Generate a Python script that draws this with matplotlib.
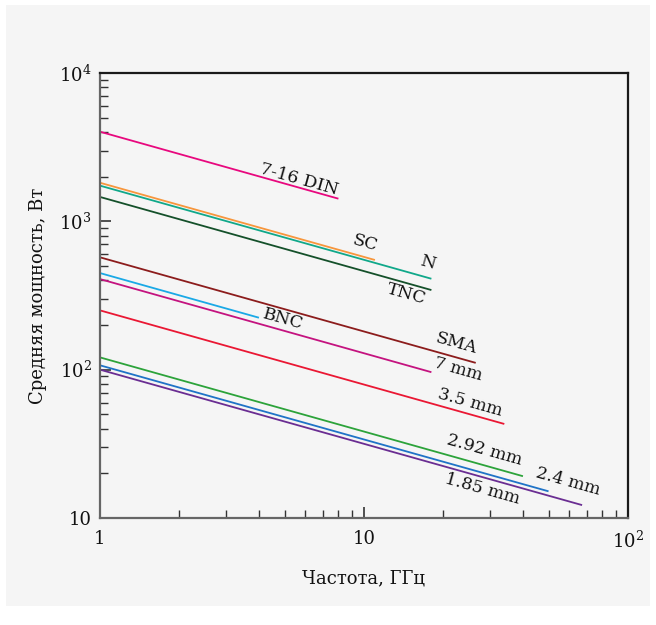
import numpy as np
import matplotlib
matplotlib.use("Agg")
import matplotlib.pyplot as plt
from matplotlib.patches import Rectangle
from matplotlib.ticker import FixedLocator, LogLocator, NullFormatter

plt.rcParams['font.family'] = ['DejaVu Serif']
plt.rcParams['mathtext.fontset'] = 'dejavuserif'

# connector data: power at 1 GHz (W) and max frequency (GHz), P ~ 1/sqrt(f)
names = ['7-16 DIN', 'SC', 'N', 'TNC', 'SMA', 'BNC', '7 mm', '3.5 mm',
         '2.92 mm', '2.4 mm', '1.85 mm']
p_1ghz = [4020, 1820, 1740, 1460, 572, 448, 408, 251, 121, 107, 100]
f_max = [8, 11, 18, 18, 26.5, 4, 18, 34, 40, 50, 67]
colors = ['#e8087e', '#f7963c', '#10a88a', '#14502a', '#8c1c1c', '#1aa9e6',
          '#c4137f', '#ea1733', '#2ca33a', '#1f73c7', '#6a2d92']

# label placement: x in GHz and vertical offset from the line in pixels
label_x = [5.67, 10.1, 17.5, 14.5, 22.3, 4.93, 22.7, 25.2, 28.7, 59.3, 28.0]
label_dy = [8, 14, 15, -11, 14, 5, 10, 12, 15, 15, -12]

W, H = 656, 625
fig = plt.figure(figsize=(W / 100, H / 100), dpi=100, facecolor='white')
fig.patches.append(Rectangle((6 / W, (H - 606) / H), 644 / W, 601 / H,
                             transform=fig.transFigure, facecolor='#f5f5f5',
                             edgecolor='none', zorder=-10))
ax = fig.add_axes([100 / W, (H - 518) / H, 528 / W, 445 / H])
ax.set_facecolor('#f5f5f5')
ax.set_xscale('log')
ax.set_yscale('log')
ax.set_xlim(1, 100)
ax.set_ylim(10, 1e4)

for name, p0, fm, c in zip(names, p_1ghz, f_max, colors):
    f = np.array([1, fm])
    ax.plot(f, p0 / np.sqrt(f), color=c, lw=1.3, solid_capstyle='butt')

# rotation of the lines on screen
p1 = ax.transData.transform((1, 100))
p2 = ax.transData.transform((100, 10))
angle = np.degrees(np.arctan2(p2[1] - p1[1], p2[0] - p1[0]))

for name, p0, lx, dy in zip(names, p_1ghz, label_x, label_dy):
    ax.annotate(name, xy=(lx, p0 / np.sqrt(lx)), xytext=(0, dy * 0.72),
                textcoords='offset points', ha='center', va='center',
                rotation=angle, rotation_mode='anchor', fontsize=12.5,
                color='#111111')

ax.xaxis.set_major_locator(FixedLocator([1, 10, 100]))
ax.yaxis.set_major_locator(FixedLocator([10, 100, 1000, 10000]))
ax.xaxis.set_minor_locator(LogLocator(base=10, subs=np.arange(2, 10)))
ax.yaxis.set_minor_locator(LogLocator(base=10, subs=np.arange(2, 10)))
ax.xaxis.set_minor_formatter(NullFormatter())
ax.yaxis.set_minor_formatter(NullFormatter())
ax.set_xticklabels(['1', '10', r'$\mathregular{10^2}$'])
ax.set_yticklabels(['10', r'$\mathregular{10^2}$', r'$\mathregular{10^3}$',
                    r'$\mathregular{10^4}$'])

ax.tick_params(which='both', direction='in', labelsize=13, colors='#333333',
               labelcolor='#111111', top=False, right=False)
ax.tick_params(which='major', length=8, width=1.2)
ax.tick_params(which='minor', length=6, width=1.0)
ax.tick_params(axis='x', which='major', pad=9)
ax.tick_params(axis='y', which='major', pad=6)

for s in ['left', 'bottom']:
    ax.spines[s].set_color('#666666')
    ax.spines[s].set_linewidth(1.6)
for s in ['top', 'right']:
    ax.spines[s].set_color('#1a1a1a')
    ax.spines[s].set_linewidth(1.6)

ax.set_xlabel('Частота, ГГц', fontsize=13, labelpad=13, color='#111111')
ax.set_ylabel('Средняя мощность, Вт', fontsize=13, labelpad=9,
              color='#111111')

fig.savefig('out.png', dpi=100, facecolor=fig.get_facecolor())
